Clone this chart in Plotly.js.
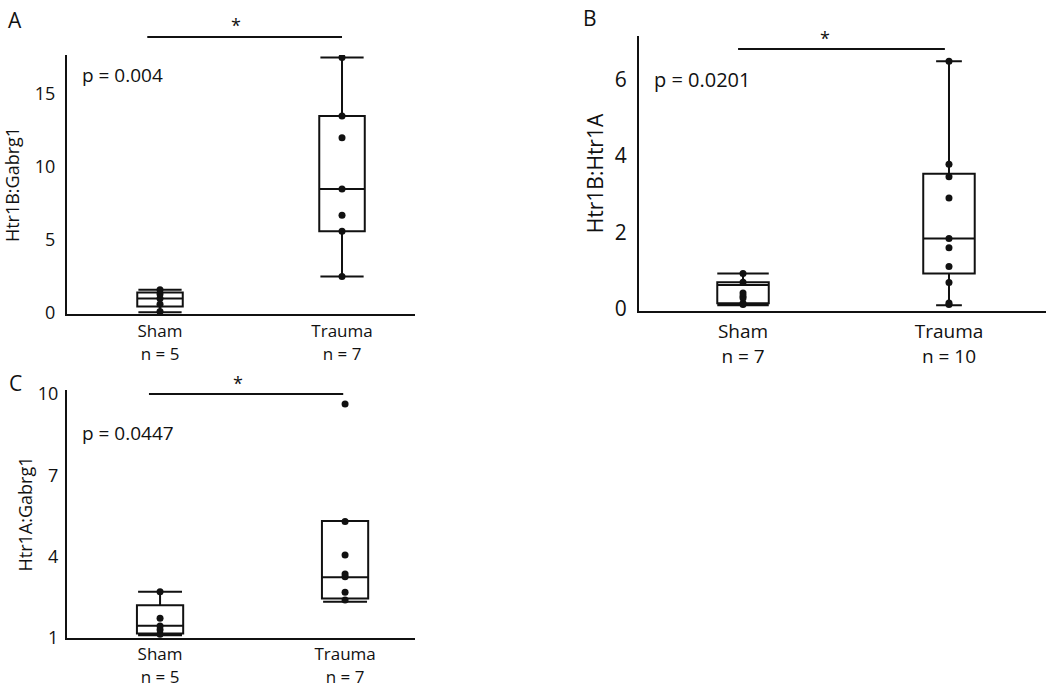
<!DOCTYPE html>
<html>
<head>
<meta charset="utf-8">
<script src="https://cdn.plot.ly/plotly-3.0.1.min.js"></script>
<style>
  html, body { margin: 0; padding: 0; background: #fff; }
  #chart { width: 1050px; height: 690px; }
</style>
</head>
<body>
<div id="chart"></div>
<script>
// Panel A: Htr1B:Gabrg1
const groupsA = ["Sham<br>n = 5", "Trauma<br>n = 7"];
const shamA = [1.6, 1.3, 1.0, 0.6, 0.1];
const traumaA = [17.5, 13.5, 12.0, 8.5, 6.7, 5.6, 2.5];
// box stats [sham, trauma]: lower fence, q1, median, q3, upper fence
const lfA = [0.05, 2.5];
const q1A = [0.45, 5.6];
const medA = [1.0, 8.5];
const q3A = [1.4, 13.5];
const ufA = [1.6, 17.5];

// Panel B: Htr1B:Htr1A
const groupsB = ["Sham<br>n = 7", "Trauma<br>n = 10"];
const shamB = [0.93, 0.70, 0.42, 0.34, 0.29, 0.15, 0.12];
const traumaB = [6.47, 3.78, 3.45, 2.90, 1.84, 1.60, 1.11, 0.69, 0.16, 0.12];
const lfB = [0.10, 0.10];
const q1B = [0.15, 0.93];
const medB = [0.63, 1.84];
const q3B = [0.70, 3.53];
const ufB = [0.93, 6.47];

// Panel C: Htr1A:Gabrg1
const groupsC = ["Sham<br>n = 5", "Trauma<br>n = 7"];
const shamC = [2.71, 1.73, 1.44, 1.30, 1.14];
const traumaC = [9.63, 5.30, 4.06, 3.36, 3.26, 2.69, 2.40];
const lfC = [1.10, 2.34];
const q1C = [1.17, 2.46];
const medC = [1.45, 3.24];
const q3C = [2.21, 5.32];
const ufC = [2.71, 5.32];

const pValues = ["p = 0.004", "p = 0.0201", "p = 0.0447"];

const FONT = "Open Sans, Noto Sans, sans-serif";

function boxTrace(pos, pts, stats, xa, ya, capw) {
  return {
    type: "box",
    x: [pos],
    y: [pts],
    lowerfence: [stats[0]],
    q1: [stats[1]],
    median: [stats[2]],
    q3: [stats[3]],
    upperfence: [stats[4]],
    xaxis: xa,
    yaxis: ya,
    width: 0.25,
    whiskerwidth: capw,
    boxpoints: "all",
    jitter: 0,
    pointpos: 0,
    fillcolor: "rgba(0,0,0,0)",
    line: { color: "#111", width: 2 },
    marker: { color: "#111", size: 7 },
    hoverinfo: "y",
  };
}

function stats(lf, q1, med, q3, uf, i) {
  return [lf[i], q1[i], med[i], q3[i], uf[i]];
}

const traces = [
  boxTrace(0, shamA, stats(lfA, q1A, medA, q3A, ufA, 0), "x", "y", 0.95),
  boxTrace(1, traumaA, stats(lfA, q1A, medA, q3A, ufA, 1), "x", "y", 0.95),
  boxTrace(0, shamB, stats(lfB, q1B, medB, q3B, ufB, 0), "x2", "y2", 1),
  boxTrace(1, traumaB, stats(lfB, q1B, medB, q3B, ufB, 1), "x2", "y2", 1.1),
  boxTrace(0, shamC, stats(lfC, q1C, medC, q3C, ufC, 0), "x3", "y3", 0.95),
  boxTrace(1, traumaC, stats(lfC, q1C, medC, q3C, ufC, 1), "x3", "y3", 0.95),
];

function xAxis(anchor, domain, range, labels, size, gap) {
  return {
    anchor: anchor,
    domain: domain,
    range: range,
    tickvals: [0, 1],
    ticktext: labels,
    showline: true,
    linecolor: "#111",
    linewidth: 2,
    showgrid: false,
    zeroline: false,
    ticks: "",
    ticklabelstandoff: gap,
    tickfont: { family: FONT, size: size, color: "#111" },
    automargin: false,
    fixedrange: true,
  };
}

function yAxis(anchor, domain, range, tickvals, title, size, gap, standoff) {
  return {
    anchor: anchor,
    domain: domain,
    range: range,
    tickvals: tickvals,
    showline: true,
    linecolor: "#111",
    linewidth: 2,
    showgrid: false,
    zeroline: false,
    ticks: "",
    ticklabelstandoff: gap,
    tickfont: { family: FONT, size: size, color: "#111" },
    title: { text: title, standoff: standoff, font: { family: FONT, size: size, color: "#111" } },
    automargin: false,
    fixedrange: true,
  };
}

// significance bars: [x0, x1] in data units, y in paper units
const sigBars = [
  { xref: "x", x: [-0.07, 1.0], y: 1 - 37 / 690, star: 0.42, sy: 1 - 25 / 690 },
  { xref: "x2", x: [-0.024, 0.98], y: 1 - 49 / 690, star: 0.40, sy: 1 - 38 / 690 },
  { xref: "x3", x: [-0.06, 0.99], y: 1 - 394 / 690, star: 0.42, sy: 1 - 383 / 690 },
];

const shapes = sigBars.map((s) => ({
  type: "line",
  xref: s.xref,
  yref: "paper",
  x0: s.x[0],
  x1: s.x[1],
  y0: s.y,
  y1: s.y,
  line: { color: "#111", width: 2 },
}));

const annotations = [];
sigBars.forEach((s) => {
  annotations.push({
    xref: s.xref, yref: "paper", x: s.star, y: s.sy,
    text: "*", showarrow: false, xanchor: "center", yanchor: "middle",
    font: { family: FONT, size: 18, color: "#111" },
  });
});

// panel letters
[["A", 6, 20], ["B", 581, 18], ["C", 7, 383]].forEach(([t, px, py]) => {
  annotations.push({
    xref: "paper", yref: "paper", x: px / 1050, y: 1 - py / 690,
    text: t, showarrow: false, xanchor: "left", yanchor: "middle",
    font: { family: FONT, size: 21, color: "#111" },
  });
});

// p values
[[0, 80, 75, 19], [1, 652, 80, 20], [2, 80, 433, 19]].forEach(([i, px, py, sz]) => {
  annotations.push({
    xref: "paper", yref: "paper", x: px / 1050, y: 1 - py / 690,
    text: pValues[i], showarrow: false, xanchor: "left", yanchor: "middle",
    font: { family: FONT, size: sz, color: "#111" },
  });
});

const layout = {
  width: 1050,
  height: 690,
  margin: { l: 0, r: 0, t: 0, b: 0 },
  paper_bgcolor: "#fff",
  plot_bgcolor: "#fff",
  showlegend: false,
  xaxis: xAxis("y", [67 / 1050, 415 / 1050], [-0.511, 1.401], groupsA, 17, 1),
  yaxis: yAxis("x", [1 - 314 / 690, 1 - 55 / 690], [-0.068, 17.67], [0, 5, 10, 15], "Htr1B:Gabrg1", 18, 6, 12),
  xaxis2: xAxis("y2", [639 / 1050, 1046 / 1050], [-0.505, 1.471], groupsB, 19, 2),
  yaxis2: yAxis("x2", [1 - 311 / 690, 1 - 36 / 690], [-0.052, 7.128], [0, 2, 4, 6], "Htr1B:Htr1A", 21, 6, 5),
  xaxis3: xAxis("y3", [67 / 1050, 415 / 1050], [-0.503, 1.378], groupsC, 17, 0),
  yaxis3: yAxis("x3", [1 - 638 / 690, 1 - 390 / 690], [1.0, 10.15], [1, 4, 7, 10], "Htr1A:Gabrg1", 18, 3, 1),
  shapes: shapes,
  annotations: annotations,
};

Plotly.newPlot("chart", traces, layout, { displayModeBar: false, staticPlot: true });
</script>
</body>
</html>
